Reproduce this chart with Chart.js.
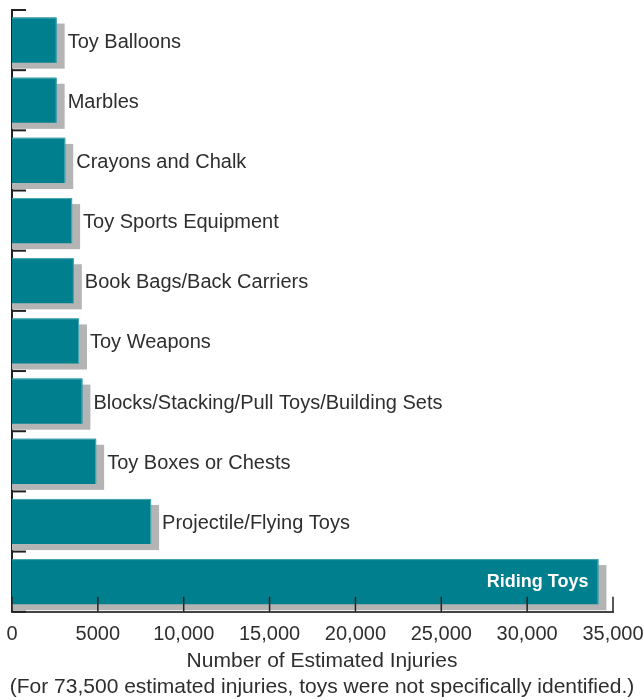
<!DOCTYPE html>
<html lang="en">
<head>
    <meta charset="UTF-8">
    <title>Toy Injuries</title>
    <script src="https://cdn.jsdelivr.net/npm/chart.js"></script>
    <style>
        html, body { margin: 0; padding: 0; background: #fff; }
        canvas { display: block; }
    </style>
</head>
<body>
    <canvas id="chart" width="644" height="700"></canvas>

    <script>
        const categories = [
            'Toy Balloons', 'Marbles', 'Crayons and Chalk', 'Toy Sports Equipment',
            'Book Bags/Back Carriers', 'Toy Weapons', 'Blocks/Stacking/Pull Toys/Building Sets',
            'Toy Boxes or Chests', 'Projectile/Flying Toys', 'Riding Toys'
        ];
        const injuries = [2600, 2600, 3100, 3500, 3600, 3900, 4100, 4900, 8100, 34150];
        const xTicks = [0, 5000, 10000, 15000, 20000, 25000, 30000, 35000];
        const xTickLabels = ['0', '5000', '10,000', '15,000', '20,000', '25,000', '30,000', '35,000'];

        const teal = '#00808f';
        const shadowGray = '#b4b4b4';
        const textColor = '#2e2e2e';
        const font = "'Liberation Sans', Arial, sans-serif";

        // gray drop shadow behind each bar, offset right and down
        const shadowPlugin = {
            id: 'shadow',
            beforeDatasetsDraw(chart) {
                const ctx = chart.ctx;
                const bars = chart.getDatasetMeta(0).data;
                ctx.save();
                ctx.fillStyle = shadowGray;
                bars.forEach(bar => {
                    const top = bar.y - bar.height / 2;
                    ctx.fillRect(bar.base, top + 6, bar.x - bar.base + 8, bar.height);
                });
                ctx.restore();
            }
        };

        // bar edges, labels and inward tick marks
        const decorPlugin = {
            id: 'decor',
            afterDatasetsDraw(chart) {
                const ctx = chart.ctx;
                const area = chart.chartArea;
                const xs = chart.scales.x, ys = chart.scales.y;
                const bars = chart.getDatasetMeta(0).data;

                ctx.save();
                bars.forEach((bar, i) => {
                    const h = bar.height;
                    const top = bar.y - h / 2;
                    ctx.strokeStyle = '#4aa8b3';
                    ctx.lineWidth = 1;
                    ctx.beginPath();
                    ctx.moveTo(bar.base, top + 0.5);
                    ctx.lineTo(bar.x - 0.5, top + 0.5);
                    ctx.lineTo(bar.x - 0.5, top + h);
                    ctx.stroke();

                    ctx.textBaseline = 'middle';
                    if (i === bars.length - 1) {
                        ctx.font = 'bold 18px ' + font;
                        ctx.fillStyle = '#fff';
                        ctx.textAlign = 'right';
                        ctx.fillText(categories[i], bar.x - 10, bar.y);
                    } else {
                        ctx.font = '20px ' + font;
                        ctx.fillStyle = textColor;
                        ctx.textAlign = 'left';
                        ctx.fillText(categories[i], bar.x + 11, bar.y + 2);
                    }
                });

                // y tick marks at category boundaries
                ctx.strokeStyle = '#222';
                ctx.lineWidth = 2;
                const bounds = [area.top];
                for (let i = 0; i < categories.length - 1; i++) {
                    bounds.push((ys.getPixelForTick(i) + ys.getPixelForTick(i + 1)) / 2);
                }
                bounds.push(area.bottom);
                bounds.forEach(y => {
                    ctx.beginPath();
                    ctx.moveTo(area.left, y);
                    ctx.lineTo(area.left + 14, y);
                    ctx.stroke();
                });

                // x tick marks pointing up
                ctx.lineWidth = 1.5;
                xTicks.forEach(v => {
                    const x = xs.getPixelForValue(v);
                    ctx.beginPath();
                    ctx.moveTo(x, area.bottom);
                    ctx.lineTo(x, area.bottom - 15);
                    ctx.stroke();
                });
                ctx.restore();
            }
        };

        new Chart('chart', {
            type: 'bar',
            data: {
                labels: categories,
                datasets: [{
                    data: injuries,
                    backgroundColor: teal,
                    borderWidth: 0,
                    barPercentage: 0.75,
                    categoryPercentage: 1.0
                }]
            },
            plugins: [shadowPlugin, decorPlugin],
            options: {
                indexAxis: 'y',
                responsive: false,
                animation: false,
                devicePixelRatio: 1,
                layout: { padding: { left: 0, right: 0, top: 10, bottom: 0 } },
                plugins: {
                    legend: { display: false },
                    tooltip: { enabled: false },
                    title: {
                        display: true,
                        position: 'bottom',
                        text: ['Number of Estimated Injuries',
                               '(For 73,500 estimated injuries, toys were not specifically identified.)'],
                        color: textColor,
                        font: { family: font, size: 21, weight: 'normal', lineHeight: 1.22 },
                        padding: { top: 2, bottom: 0 }
                    }
                },
                scales: {
                    x: {
                        min: 0,
                        max: 35000,
                        afterBuildTicks: axis => { axis.ticks = xTicks.map(v => ({ value: v })); },
                        afterFit: scale => {
                            scale.height = 35;
                            scale.paddingLeft = 0;
                            scale.paddingRight = 31;
                        },
                        ticks: {
                            color: textColor,
                            font: { family: font, size: 20 },
                            padding: 11,
                            maxRotation: 0,
                            autoSkip: false,
                            callback: (v, i) => xTickLabels[i]
                        },
                        grid: { display: false, drawTicks: false },
                        border: { display: true, color: '#444', width: 2 }
                    },
                    y: {
                        afterFit: scale => { scale.width = 12; },
                        ticks: { display: false },
                        grid: { display: false, drawTicks: false },
                        border: { display: true, color: '#222', width: 2 }
                    }
                }
            }
        });
    </script>
</body>
</html>
